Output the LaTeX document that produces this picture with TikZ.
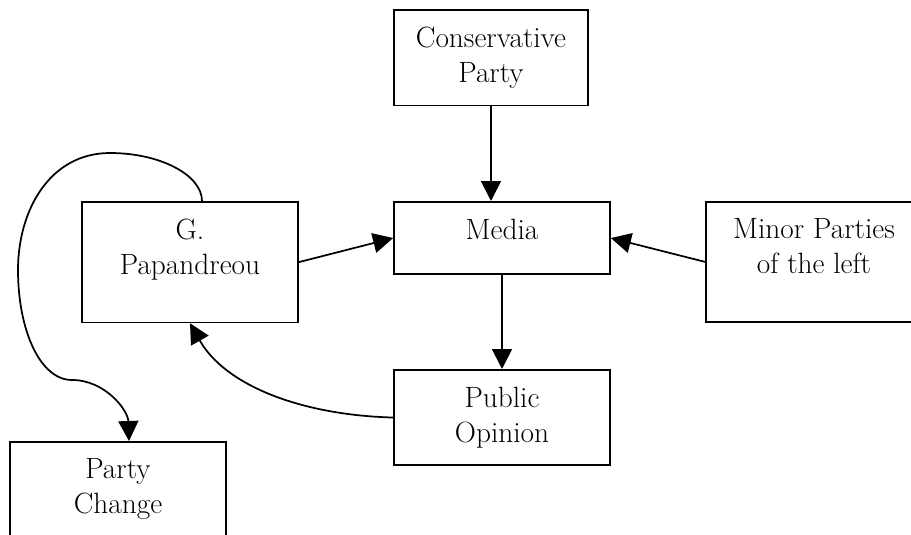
\documentclass[tikz,border=0pt]{standalone}
\usepackage{tikz}
\usetikzlibrary{arrows.meta,calc,positioning}

\begin{document}
\begin{tikzpicture}[x=.75pt,y=-.75pt,
                    every node/.append style={font=\fontsize{22}{26.25}\selectfont},
                    box/.style={draw, line width=1.3pt, align=center, anchor=north,
                                minimum width=162pt, inner xsep=4pt, inner ysep=12.75pt,
                                text depth=4.5pt},
                    tall/.style={text depth=23.25pt},
                    link/.style={line width=1.3pt, -{Triangle[length=15pt,width=15pt]}}]
    \useasboundingbox (0,0) rectangle (911,535);
    \clip (0,0) rectangle (911,535);
    \node[box, minimum width=145.5pt] (cons) at (491,9) {Conservative\\Party};
    \node[box, text depth=13.5pt] (media) at (502,201) {Media};
    \node[box, tall] (pap) at (190,201) {G.\\Papandreou};
    \node[box, tall] (minor) at (814,201) {Minor Parties\\of the left};
    \node[box] (pub) at (502,369) {Public\\Opinion};
    \node[box] (chg) at (118,441) {Party\\Change};

    \draw[link] (cons.south) -- (cons.south |- media.north);
    \draw[link] (media) -- (pub);
    \draw[link] (pap.east) -- (media.west);
    \draw[link] (minor.west) -- (media.east);
    \draw[link] (pub.west) .. controls (300,415) and (225,385) .. (pap.south);
    \draw[link] ($(pap.north)+(12,0)$) .. controls +(0,-26) and (160,153) .. (110,153)
                .. controls (50,153) and (18,210) .. (18,270)
                .. controls (18,330) and (40,380) .. (72,380)
                .. controls (105,380) and (128,410) .. ($(chg.north)+(11,0)$);
\end{tikzpicture}
\end{document}
